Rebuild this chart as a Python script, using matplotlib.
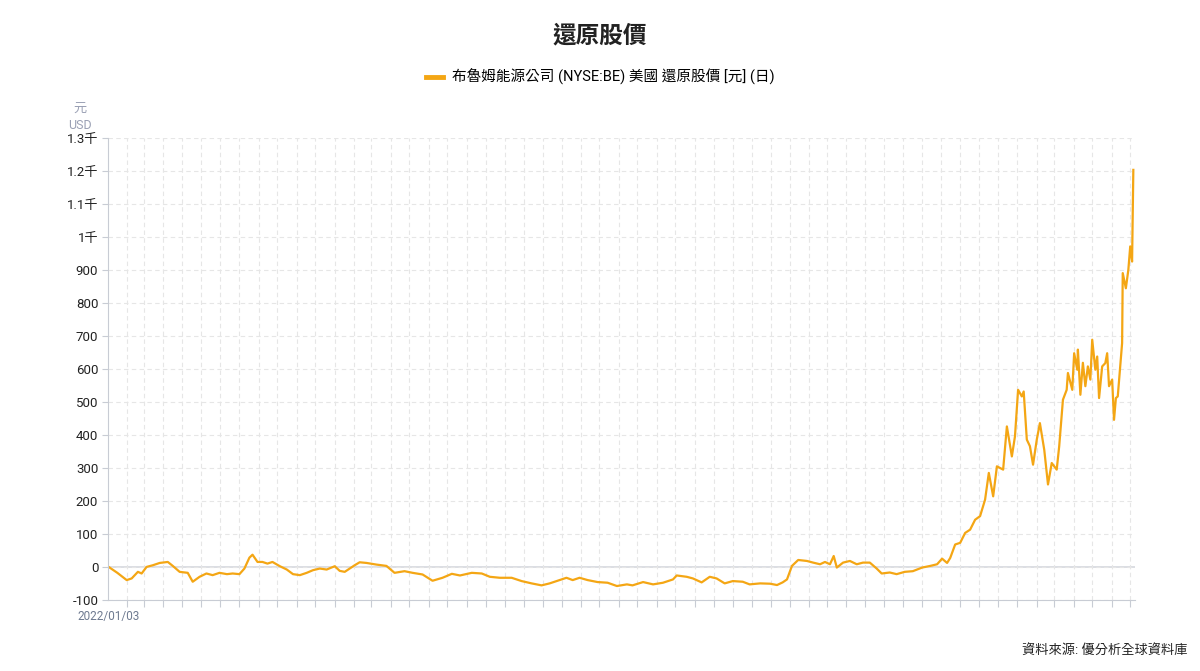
import numpy as np
import pandas as pd
import matplotlib
matplotlib.use('Agg')
import matplotlib.pyplot as plt
import matplotlib.dates as mdates
from matplotlib.ticker import FuncFormatter, MultipleLocator

plt.rcParams['font.family'] = ['Roboto', 'Noto Sans CJK TC', 'DejaVu Sans']

# days since 2022-01-03 and adjusted-price values
start = pd.Timestamp('2022-01-03')
day = [0, 14, 29, 37, 47, 53, 61, 71, 82, 95, 103, 114, 127, 135, 146, 157, 167, 178, 190, 199,
       210, 218, 226, 231, 239, 247, 255, 263, 275, 286, 296, 307, 318, 328, 339, 350, 363, 371,
       379, 387, 395, 403, 414, 430, 446, 459, 475, 488, 504, 520, 536, 551, 564, 583, 599, 612,
       628, 647, 663, 679, 695, 708, 724, 735, 745, 756, 769, 785, 801, 816, 832, 841, 858, 874,
       890, 906, 912, 928, 938, 952, 965, 976, 989, 1002, 1018, 1029, 1046, 1062, 1073, 1082,
       1089, 1097, 1107, 1121, 1131, 1142, 1150, 1158, 1164, 1169, 1179, 1190, 1201, 1211, 1222,
       1233, 1241, 1254, 1265, 1278, 1291, 1306, 1319, 1330, 1338, 1346, 1351, 1359, 1367, 1375,
       1383, 1391, 1399, 1407, 1413, 1420, 1426, 1436, 1442, 1450, 1455, 1460, 1466, 1469, 1474,
       1479, 1484, 1490, 1495, 1502, 1508, 1514, 1522, 1526, 1532, 1538, 1540, 1547, 1550, 1555,
       1556, 1560, 1564, 1568, 1572, 1576, 1579, 1584, 1587, 1590, 1595, 1600, 1603, 1606, 1611,
       1614, 1617, 1620, 1627, 1628, 1633, 1637, 1640, 1643, 1645]
value = [0, -18, -40, -35, -15, -20, 0, 5, 12, 15, 3, -15, -18, -45, -30, -20, -25, -18, -22, -20,
         -22, -5, 28, 37, 15, 15, 10, 15, 2, -8, -22, -25, -18, -10, -5, -8, 2, -12,
         -15, -5, 5, 14, 12, 7, 3, -18, -13, -18, -23, -42, -33, -21, -26, -18, -20, -30,
         -33, -33, -43, -50, -56, -50, -40, -33, -40, -33, -40, -46, -48, -58, -53, -56, -46, -53,
         -48, -38, -26, -30, -35, -47, -30, -35, -50, -43, -45, -53, -50, -51, -55, -47,
         -38, 3, 21, 18, 13, 8, 15, 8, 33, -2, 13, 18, 8, 13, 13,
         -5, -20, -17, -22, -15, -13, -2, 3, 8, 25, 12, 27, 68, 73, 103,
         113, 143, 154, 204, 285, 214, 305, 295, 426, 335, 396, 537, 517, 532, 386,
         366, 310, 386, 436, 355, 250, 315, 295, 366, 507, 537, 588, 537, 648, 598,
         659, 522, 619, 548, 608, 568, 689, 598, 638, 512, 608, 618, 648, 548, 568,
         446, 512, 517, 679, 891, 845, 901, 972, 926, 1204]

dates = start + pd.to_timedelta(day, unit='D')

line_color = '#f4a614'
grid_color = '#e6e6e6'
axis_color = '#c8ccd4'

fig = plt.figure(figsize=(12, 6.71), dpi=100)
ax = fig.add_axes([0.09, 0.106, 0.856, 0.688])

ax.plot(dates, value, color=line_color, linewidth=1.6, label='布魯姆能源公司 (NYSE:BE) 美國 還原股價 [元] (日)')
ax.axhline(0, color='#d5d8de', linewidth=1.2, zorder=1)

ax.set_ylim(-100, 1300)
ax.yaxis.set_major_locator(MultipleLocator(100))

def fmt(v, pos):
    if abs(v) >= 1000:
        s = ('%.1f' % (v / 1000)).rstrip('0').rstrip('.')
        return s + '千'
    return '%d' % v

ax.yaxis.set_major_formatter(FuncFormatter(fmt))

ax.set_xlim(start - pd.Timedelta(days=1), start + pd.Timedelta(days=1648))
ax.xaxis.set_major_locator(mdates.MonthLocator())
ax.xaxis.set_major_formatter(plt.NullFormatter())

ax.grid(True, which='major', color=grid_color, linestyle=(0, (4, 3)), linewidth=0.8)
for s in ['top', 'right']:
    ax.spines[s].set_visible(False)
ax.spines['left'].set_color(axis_color)
ax.spines['bottom'].set_color(axis_color)
ax.tick_params(axis='y', length=4, color=axis_color, labelsize=9.5, labelcolor='#222222', pad=3)
ax.tick_params(axis='x', length=5, color=axis_color)

ax.annotate('2022/01/03', xy=(start, -100), xytext=(0, -7), textcoords='offset points',
            ha='center', va='top', fontsize=8.5, color='#6e7a90', annotation_clip=False)
fig.text(0.067, 0.838, '元', ha='center', va='center', fontsize=9.5, color='#9aa0b4')
fig.text(0.067, 0.813, 'USD', ha='center', va='center', fontsize=9, color='#9aa0b4')

fig.text(0.5, 0.946, '還原股價', ha='center', va='center', fontsize=17, fontweight='bold', color='#222222')
leg = fig.legend(loc='center', bbox_to_anchor=(0.5, 0.885), frameon=False, fontsize=10.5,
                 handlelength=1.2, handletextpad=0.6)
for h in leg.get_lines():
    h.set_linewidth(3.5)

fig.text(0.99, 0.031, '資料來源: 優分析全球資料庫', ha='right', va='center', fontsize=9.5, color='#222222')

fig.savefig('out.png', dpi=100)
